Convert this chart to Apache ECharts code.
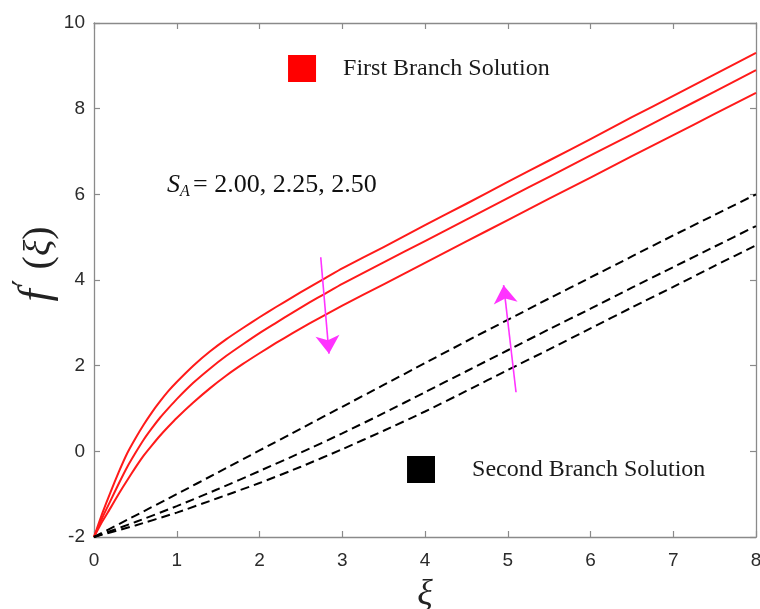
<!DOCTYPE html>
<html>
<head>
<meta charset="utf-8">
<script src="https://cdn.jsdelivr.net/npm/echarts@6/dist/echarts.min.js"></script>
<style>
  html, body { margin: 0; padding: 0; background: #fff; }
  #chart { width: 760px; height: 609px; }
</style>
</head>
<body>
<div id="chart"></div>
<script>
// First branch (solid red), S_A = 2.00, 2.25, 2.50
const xFirst = [0, 0.1, 0.2, 0.3, 0.4, 0.5, 0.6, 0.7, 0.8, 0.9, 1.0, 1.2, 1.4, 1.6, 1.8, 2.0, 2.2, 2.4, 2.6, 2.8, 3.0,
                3.5, 4, 4.5, 5, 5.5, 6, 6.5, 7, 7.5, 8];
const firstSA200 = [-2, -1.45, -0.95, -0.48, -0.05, 0.3, 0.62, 0.91, 1.17, 1.41, 1.62, 2.0, 2.33, 2.62, 2.88, 3.13, 3.37, 3.6, 3.83, 4.05, 4.27,
                    4.77, 5.28, 5.78, 6.29, 6.79, 7.29, 7.80, 8.30, 8.80, 9.30];
const firstSA225 = [-2, -1.55, -1.15, -0.75, -0.37, -0.04, 0.27, 0.54, 0.79, 1.01, 1.22, 1.6, 1.93, 2.23, 2.5, 2.76, 3.0, 3.24, 3.47, 3.69, 3.91,
                    4.41, 4.91, 5.41, 5.91, 6.41, 6.91, 7.40, 7.90, 8.40, 8.90];
const firstSA250 = [-2, -1.64, -1.32, -0.99, -0.68, -0.38, -0.1, 0.14, 0.37, 0.58, 0.78, 1.14, 1.47, 1.77, 2.04, 2.29, 2.53, 2.76, 2.98, 3.19, 3.40,
                    3.90, 4.40, 4.90, 5.40, 5.90, 6.39, 6.89, 7.38, 7.88, 8.37];

// Second branch (dashed black)
const xSecond = [0, 0.5, 1, 1.5, 2, 2.5, 3, 3.5, 4, 4.5, 5, 5.5, 6, 6.5, 7, 7.5, 8];
const secondA = [-2, -1.5, -1.0, -0.49, 0.02, 0.53, 1.04, 1.55, 2.06, 2.57, 3.07, 3.57, 4.06, 4.55, 5.04, 5.52, 6.0];
const secondB = [-2, -1.65, -1.28, -0.88, -0.46, -0.03, 0.42, 0.89, 1.38, 1.87, 2.36, 2.85, 3.33, 3.82, 4.30, 4.78, 5.26];
const secondC = [-2, -1.73, -1.43, -1.09, -0.74, -0.36, 0.05, 0.48, 0.93, 1.41, 1.90, 2.38, 2.87, 3.36, 3.84, 4.33, 4.81];

// Axis ticks
const xTicks = [0, 1, 2, 3, 4, 5, 6, 7, 8];
const yTicks = [-2, 0, 2, 4, 6, 8, 10];

const pair = (xs, ys) => xs.map((x, i) => [x, ys[i]]);

const AXIS_GREY = '#8a8a8a';
const LABEL_COL = '#2b2b2b';
const SERIF = '"Liberation Serif", "Times New Roman", serif';
const SANS = '"Liberation Sans", Arial, Helvetica, sans-serif';

function axisCommon(show, margin) {
  return {
    axisLine: { show: true, onZero: false, lineStyle: { color: AXIS_GREY, width: 1.3 } },
    axisTick: { show: true, inside: true, length: 6, lineStyle: { color: AXIS_GREY, width: 1.2 } },
    axisLabel: { show: show, color: LABEL_COL, fontSize: 19, fontFamily: SANS, margin: margin || 8 },
    splitLine: { show: false }
  };
}

const redLine = (data) => ({
  type: 'line', name: 'First Branch Solution', data: data, smooth: 0.15,
  symbol: 'none', xAxisIndex: 0, yAxisIndex: 0,
  lineStyle: { color: '#ff1a1a', width: 2, join: 'round' }, z: 3
});
const dashLine = (data) => ({
  type: 'line', name: 'Second Branch Solution', data: data, smooth: 0.2,
  symbol: 'none', xAxisIndex: 0, yAxisIndex: 0,
  lineStyle: { color: '#000', width: 2, type: [9, 5] }, z: 3
});

const chart = echarts.init(document.getElementById('chart'), null, { renderer: 'canvas' });

const option = {
  animation: false,
  backgroundColor: '#ffffff',
  grid: { left: 94, top: 23, width: 662, height: 514, containLabel: false, outerBoundsMode: 'none' },
  xAxis: [
    Object.assign({
      type: 'value', min: xTicks[0], max: xTicks[xTicks.length - 1], interval: 1, position: 'bottom',
      name: 'ξ', nameLocation: 'middle', nameGap: 40,
      nameTextStyle: { fontFamily: SERIF, fontStyle: 'italic', fontSize: 36, color: '#222' }
    }, axisCommon(true, 14)),
    Object.assign({
      type: 'value', min: xTicks[0], max: xTicks[xTicks.length - 1], interval: 1, position: 'top'
    }, axisCommon(false))
  ],
  yAxis: [
    Object.assign({
      type: 'value', min: yTicks[0], max: yTicks[yTicks.length - 1], interval: 2, position: 'left'
    }, axisCommon(true, 9)),
    Object.assign({
      type: 'value', min: yTicks[0], max: yTicks[yTicks.length - 1], interval: 2, position: 'right'
    }, axisCommon(false))
  ],
  graphic: [
    {
      type: 'text', x: 35, y: 264, rotation: Math.PI / 2,
      style: {
        text: '{f|f}{p|′}{n|(}{g|ξ}{n|)}',
        align: 'center', verticalAlign: 'middle',
        rich: {
          f: { fontFamily: SERIF, fontStyle: 'italic', fontSize: 44, fill: '#222', lineHeight: 48, verticalAlign: 'bottom' },
          p: { fontFamily: '"DejaVu Serif", serif', fontSize: 30, fill: '#222', lineHeight: 48,
               verticalAlign: 'top', padding: [0, 10, 0, 3] },
          n: { fontFamily: SERIF, fontSize: 40, fill: '#222', lineHeight: 48, verticalAlign: 'bottom' },
          g: { fontFamily: SERIF, fontStyle: 'italic', fontSize: 38, fill: '#222', lineHeight: 48, verticalAlign: 'bottom' }
        }
      }
    },
    {
      type: 'text', x: 167, y: 185,
      style: { text: 'S', fontFamily: SERIF, fontStyle: 'italic', fontSize: 26, fill: '#111', verticalAlign: 'middle' }
    },
    {
      type: 'text', x: 180, y: 192,
      style: { text: 'A', fontFamily: SERIF, fontStyle: 'italic', fontSize: 16, fill: '#111', verticalAlign: 'middle' }
    },
    {
      type: 'text', x: 193, y: 185,
      style: { text: '= 2.00, 2.25, 2.50', fontFamily: SERIF, fontSize: 26, fill: '#111', verticalAlign: 'middle' }
    }
  ],
  series: [
    redLine(pair(xFirst, firstSA200)),
    redLine(pair(xFirst, firstSA225)),
    redLine(pair(xFirst, firstSA250)),
    dashLine(pair(xSecond, secondA)),
    dashLine(pair(xSecond, secondB)),
    dashLine(pair(xSecond, secondC)),
    // direction arrows for increasing S_A
    {
      type: 'lines', coordinateSystem: 'cartesian2d', xAxisIndex: 0, yAxisIndex: 0,
      symbol: ['none', 'arrow'], symbolSize: 18, z: 4,
      lineStyle: { color: '#ff33ff', width: 1.6, opacity: 1 },
      itemStyle: { color: '#ff00ff' },
      data: [
        { coords: [[2.74, 4.53], [2.84, 2.28]] },
        { coords: [[5.10, 1.38], [4.95, 3.88]] }
      ]
    },
    // branch markers with captions
    {
      type: 'scatter', xAxisIndex: 0, yAxisIndex: 0, symbol: 'rect', symbolSize: [28, 27],
      itemStyle: { color: '#ff0000', opacity: 1 }, z: 5,
      label: { show: true, position: 'right', distance: 27, formatter: 'First Branch Solution',
               fontFamily: SERIF, fontSize: 24, color: '#1a1a1a' },
      data: [[2.514, 8.938]]
    },
    {
      type: 'scatter', xAxisIndex: 0, yAxisIndex: 0, symbol: 'rect', symbolSize: [28, 27],
      itemStyle: { color: '#000000', opacity: 1 }, z: 5,
      label: { show: true, position: 'right', distance: 37, formatter: 'Second Branch Solution',
               fontFamily: SERIF, fontSize: 24, color: '#1a1a1a' },
      data: [[3.952, -0.424]]
    }
  ]
};

chart.setOption(option);
</script>
</body>
</html>
